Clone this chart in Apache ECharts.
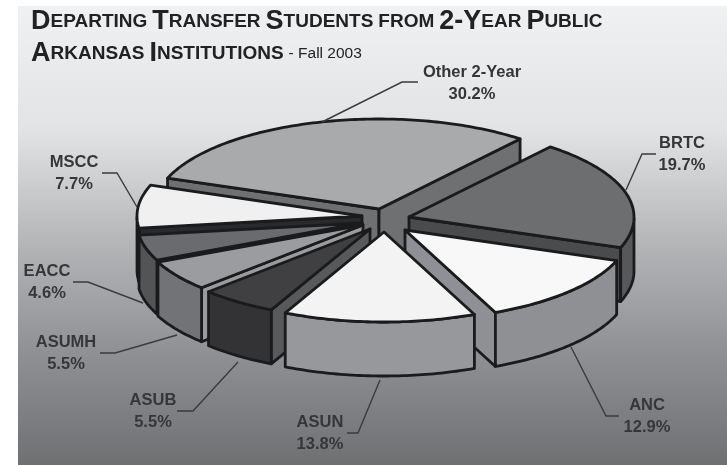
<!DOCTYPE html>
<html><head><meta charset="utf-8">
<style>html,body{margin:0;padding:0;background:#fff}#c{width:727px;height:465px;filter:blur(0.4px)}</style>
<script src="https://cdn.jsdelivr.net/npm/echarts@6/dist/echarts.min.js"></script>
</head><body><div id="c"></div>
<script>
// ---- data (clockwise from the left edge of "Other 2-Year") ----
const categories = ['Other 2-Year','BRTC','ANC','ASUN','ASUB','ASUMH','EACC','MSCC'];
const shares = [30.2,19.7,12.9,13.8,5.5,5.5,4.6,7.7];
const valueLabels = ['30.2%','19.7%','12.9%','13.8%','5.5%','5.5%','4.6%','7.7%'];
// ---- styling ----
const topColors = ['#a8aaac','#6d6e70','#f8f8f8','#f3f3f3','#404042','#9b9c9f','#6a6b6e','#f0f0f0'];
const wallColors = ['#6f7072','#57585a','#8f9094','#97989b','#333335','#727376','#535456','#3a3a3c'];
const cutColors = ['#6f7072','#4a4b4d','#8f9094','#97989b','#58595b','#9a9b9d','#2a2a2c','#2a2a2c'];
const drawOrder = [0,1,2,7,6,5,4,3];
// ---- layout: how far each slice is pulled from the centre, label anchors, leaders ----
const pullOffsets = [[-5,-12],[25,-4],[21,9],[0,11],[-14,8],[-21,4],[-22,2],[-22,-5]];
const labelPos = [[472,72],[682,143],[647,405],[320,422],[153,400],[66,342],[47,271],[74,162]];
const leaders = [
 [[322,122],[402,82],[418,82]],
 [[626,190],[642,154],[656,154]],
 [[571,347],[606,416],[619,416]],
 [[380,380],[358,433],[347,433]],
 [[238,362],[193,411],[177,411]],
 [[177,335],[115,353],[100,353]],
 [[143,303],[88,282],[73,282]],
 [[137,207],[117,173],[102,173]]
];
const CX=384, CY=221, RX=225, RY=90, DEPTH=54, START=160;
const INK='#1b1b1d', TEXT='#353638';

const total = shares.reduce((a,b)=>a+b,0);
let acc = START;
const spans = shares.map(v=>{const a0=acc; acc-=v/total*360; return [a0,acc];});
const rad = d=>d*Math.PI/180;

function renderItem(params, api){
  const i = api.value(0), order = api.value(1);
  const [a0,a1] = spans[i];
  const ox = CX+pullOffsets[i][0], oy = CY+pullOffsets[i][1];
  const pt = d=>[ox+RX*Math.cos(rad(d)), oy-RY*Math.sin(rad(d))];
  const down = p=>[p[0],p[1]+DEPTH];
  const arc=[]; const n=Math.ceil((a0-a1)); for(let k=0;k<=n;k++) arc.push(a0+(a1-a0)*k/n);
  const apex=[ox,oy];
  const base = 10+order*10;
  const face = (pts,fill,z)=>({type:'polygon',z2:base+z,shape:{points:pts},
    style:{fill,stroke:INK,lineWidth:2.8,lineJoin:'round'}});
  const ch=[];
  // radial cuts facing the viewer
  if(Math.cos(rad(a0))<0){const p=pt(a0);ch.push(face([apex,p,down(p),down(apex)],cutColors[i],0));}
  if(Math.cos(rad(a1))>0){const p=pt(a1);ch.push(face([apex,p,down(p),down(apex)],cutColors[i],0));}
  // outer wall
  const front=arc.filter(d=>Math.sin(rad(d))<=0.001).map(pt);
  if(front.length>1) ch.push(face(front.concat(front.slice().reverse().map(down)),wallColors[i],1));
  // top
  ch.push(face([apex].concat(arc.map(pt)),topColors[i],2));
  // leader + label
  ch.push({type:'polyline',z2:500,shape:{points:leaders[i]},style:{fill:null,stroke:'#3a3b3d',lineWidth:1.4}});
  const lp=labelPos[i];
  [categories[i],valueLabels[i]].forEach((t,j)=>ch.push({type:'text',z2:501,
    style:{text:t,x:lp[0],y:lp[1]+j*22,align:'center',verticalAlign:'middle',
      font:'bold 16.5px "Liberation Sans", Arial, sans-serif',fill:TEXT}}));
  return {type:'group',children:ch};
}

const big = '"Liberation Sans", Arial, sans-serif';
const chart = echarts.init(document.getElementById('c'),null,{renderer:'canvas'});
chart.setOption({
  animation:false,
  backgroundColor:'#ffffff',
  graphic:[{type:'rect',z:-10,shape:{x:18,y:6,width:709,height:459},silent:true,
    style:{fill:new echarts.graphic.LinearGradient(0,0,0,1,[
      {offset:0,color:'#f0f1f2'},{offset:0.27,color:'#e2e3e4'},{offset:0.53,color:'#b2b3b5'},
      {offset:0.75,color:'#909195'},{offset:1,color:'#6f7072'}])}}],
  title:{left:31,top:6,padding:0,
    text:'{b|D}{s|EPARTING} {b|T}{s|RANSFER} {b|S}{s|TUDENTS} {s|FROM} {b|2-Y}{s|EAR} {b|P}{s|UBLIC}\n{b|A}{s|RKANSAS} {b|I}{s|NSTITUTIONS} {r|- Fall 2003}',
    textStyle:{rich:{
      b:{fontFamily:big,fontWeight:'bold',fontSize:27,color:'#222224',lineHeight:32},
      s:{fontFamily:big,fontWeight:'bold',fontSize:19,color:'#222224',lineHeight:32},
      r:{fontFamily:big,fontWeight:'normal',fontSize:15.5,color:'#222224',lineHeight:32}
    }}},
  series:[{type:'custom',coordinateSystem:'none',silent:true,renderItem,
    data:drawOrder.map((idx,o)=>[idx,o])}]
});
</script></body></html>
